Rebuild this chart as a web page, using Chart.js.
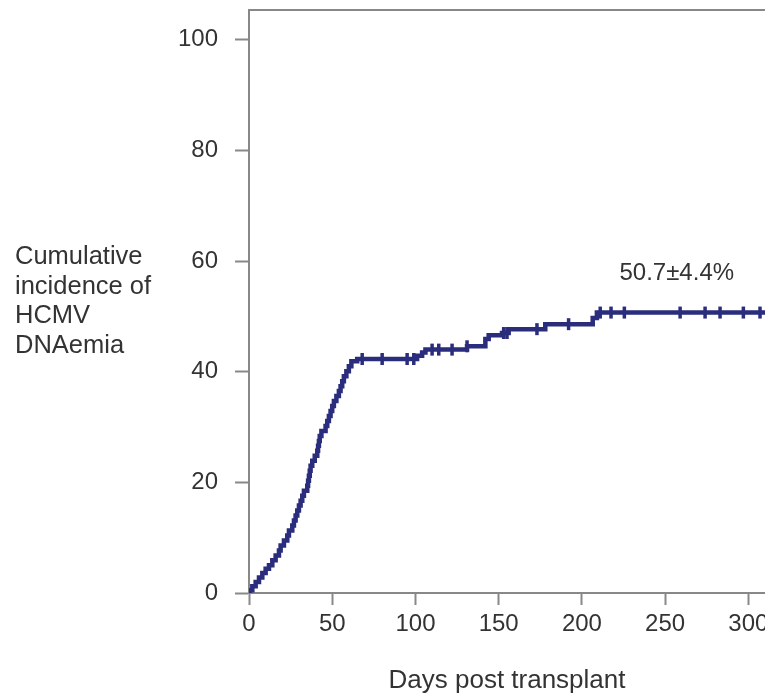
<!DOCTYPE html>
<html>
<head>
<meta charset="utf-8">
<script src="https://cdn.jsdelivr.net/npm/chart.js@4/dist/chart.umd.min.js"></script>
<style>
  html, body { margin: 0; padding: 0; background: #fff; }
  #wrap { width: 765px; height: 696px; }
</style>
</head>
<body>
<div id="wrap"><canvas id="km" width="765" height="696"></canvas></div>
<script>
// step points of the cumulative incidence curve (day, %)
const eventDays = [0, 0.5, 2, 4, 6, 8, 10, 12, 14, 16, 18, 19, 21, 23, 24, 26, 27, 28, 29, 30,
  31, 32, 33, 35, 35.5, 36, 36.5, 37, 38, 39.5, 41, 41.5, 42, 42.5, 43.5, 46, 47, 48, 49, 50,
  51, 52.5, 54, 55, 56, 57, 58.5, 60, 61.5, 65, 101, 104, 106, 131, 142, 144, 152, 156, 178,
  206.5, 209, 310];
const eventValues = [0, 0.5, 1.2, 2.0, 2.8, 3.6, 4.4, 5.0, 5.9, 6.8, 7.7, 8.6, 9.5, 10.4, 11.3, 12.2, 13.1, 14.0, 14.9, 15.8,
  16.7, 17.6, 18.5, 19.4, 20.3, 21.2, 22.1, 23.0, 23.9, 24.8, 25.7, 26.6, 27.5, 28.4, 29.3, 30.2, 31.1, 32.0, 32.9, 33.8,
  34.7, 35.6, 36.5, 37.4, 38.3, 39.2, 40.1, 41.0, 41.9, 42.3, 42.9, 43.5, 44.0, 44.6, 45.9, 46.6, 47.0, 47.7, 48.6,
  49.7, 50.7, 50.7];

// censored observations
const censorDays = [68, 80, 95, 99, 110, 114, 122, 131, 153, 155, 173, 192, 211, 217.5, 225.5, 259, 274, 283, 297, 307];
const censorValues = [42.3, 42.3, 42.3, 42.3, 44.0, 44.0, 44.0, 44.6, 47.0, 47.0, 47.7, 48.6, 50.7, 50.7, 50.7, 50.7, 50.7, 50.7, 50.7, 50.7];

const yTitleLines = ["Cumulative", "incidence of", "HCMV", "DNAemia"];
const endLabel = "50.7±4.4%";
const endLabelAt = [257, 57.8];

const navy = "#2a2c7c";
const axisGrey = "#888888";
const textCol = "#333333";
const fontFam = "'Liberation Sans', Arial, sans-serif";

const extraText = {
  id: "extraText",
  afterDraw(chart) {
    const ctx = chart.ctx;
    const { top, left, right } = chart.chartArea;
    ctx.save();
    // top frame line
    ctx.strokeStyle = axisGrey;
    ctx.lineWidth = 2;
    ctx.beginPath();
    ctx.moveTo(left, top);
    ctx.lineTo(right, top);
    ctx.stroke();
    // y title, horizontal block left of the axis
    ctx.fillStyle = textCol;
    ctx.font = "25.5px " + fontFam;
    ctx.textAlign = "left";
    ctx.textBaseline = "alphabetic";
    yTitleLines.forEach((line, i) => {
      ctx.fillText(line, 15, 264 + i * 29.5);
    });
    // final estimate label
    ctx.font = "24px " + fontFam;
    ctx.textAlign = "center";
    ctx.textBaseline = "middle";
    const sx = chart.scales.x.getPixelForValue(endLabelAt[0]);
    const sy = chart.scales.y.getPixelForValue(endLabelAt[1]);
    ctx.fillText(endLabel, sx, sy);
    ctx.restore();
  },
};

new Chart(document.getElementById("km"), {
  type: "line",
  data: {
    datasets: [
      {
        data: eventDays.map((d, i) => ({ x: d, y: eventValues[i] })),
        stepped: true,
        borderColor: navy,
        borderWidth: 4.5,
        pointRadius: 0,
        fill: false,
      },
      {
        data: censorDays.map((d, i) => ({ x: d, y: censorValues[i] })),
        showLine: false,
        pointStyle: "line",
        rotation: 90,
        pointRadius: 6,
        borderColor: navy,
        pointBorderWidth: 3.5,
        backgroundColor: navy,
      },
    ],
  },
  plugins: [extraText],
  options: {
    responsive: false,
    animation: false,
    devicePixelRatio: 1,
    layout: { autoPadding: false, padding: { top: 10, right: 0, bottom: 0, left: 0 } },
    plugins: { legend: { display: false }, tooltip: { enabled: false } },
    scales: {
      x: {
        type: "linear",
        min: 0,
        max: 310,
        border: { color: axisGrey, width: 2 },
        grid: { drawOnChartArea: false, tickLength: 12, color: axisGrey, tickWidth: 2 },
        ticks: { stepSize: 50, includeBounds: false, padding: 5, color: textCol, font: { size: 24, family: fontFam } },
        title: {
          display: true,
          text: "Days post transplant",
          color: textCol,
          font: { size: 26, family: fontFam },
          padding: { top: 0, bottom: 0 },
        },
        afterFit(scale) {
          scale.height = 103;
          scale.paddingLeft = 0;
          scale.paddingRight = 0;
        },
      },
      y: {
        min: 0,
        max: 105.4,
        border: { color: axisGrey, width: 2 },
        grid: { drawOnChartArea: false, tickLength: 14, color: axisGrey, tickWidth: 2 },
        ticks: { stepSize: 20, includeBounds: false, padding: 17, color: textCol, font: { size: 24, family: fontFam } },
        afterFit(scale) {
          scale.width = 249;
          scale.paddingTop = 0;
          scale.paddingBottom = 0;
        },
      },
    },
  },
});
</script>
</body>
</html>
